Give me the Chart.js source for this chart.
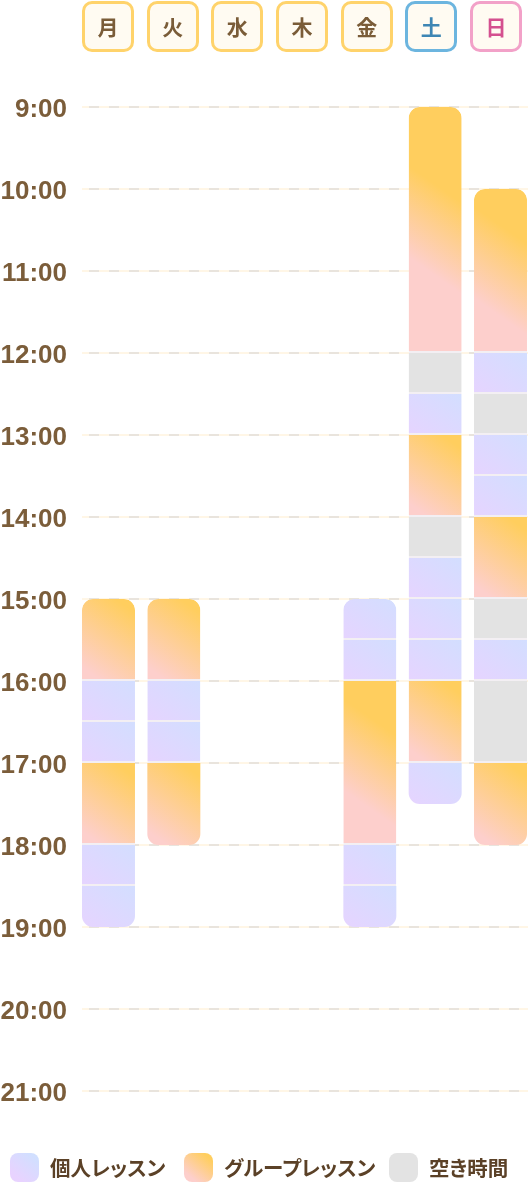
<!DOCTYPE html>
<html><head><meta charset="utf-8">
<script src="https://cdn.jsdelivr.net/npm/chart.js@4.4.1/dist/chart.umd.min.js"></script>
<style>
html,body{margin:0;padding:0;background:#fff;}
body{width:528px;height:1183px;overflow:hidden;position:relative;font-family:"Noto Sans CJK JP","Noto Sans",sans-serif;}
#wrap{position:absolute;left:0;top:0;width:540px;height:1183px;}
#header{position:absolute;left:0;top:0;width:528px;height:60px;}
.day{position:absolute;top:1px;width:52px;height:51px;box-sizing:border-box;border:3.5px solid #FFD36B;border-radius:10px;background:#FFFBF2;display:flex;align-items:center;justify-content:center;font-weight:700;font-size:21px;color:#7A5C38;line-height:1;}
.day.sat{border-color:#6CB5DF;color:#3E86B4;}
.day.sun{border-color:#F2A1C8;color:#D4508F;}
#legend{position:absolute;left:0;top:1153px;width:528px;height:30px;}
.sw{position:absolute;top:0;width:29px;height:29px;border-radius:8px;}
.lt{position:absolute;top:0;height:29px;line-height:29px;font-size:20.5px;font-weight:700;color:#5B4127;font-feature-settings:"palt";white-space:nowrap;}
</style>
</head><body>
<div id="wrap"><canvas id="c" width="540" height="1183" style="width:540px;height:1183px"></canvas></div>
<div id="header"></div>
<div id="legend"></div>
<script>
const days = ['月','火','水','木','金','土','日'];
const hourLabels = ['9:00','10:00','11:00','12:00','13:00','14:00','15:00','16:00','17:00','18:00','19:00','20:00','21:00'];
const individualLessons = [
  ['月',16,16.5],['月',16.5,17],['月',18,18.5],['月',18.5,19],
  ['火',16,16.5],['火',16.5,17],
  ['金',15,15.5],['金',15.5,16],['金',18,18.5],['金',18.5,19],
  ['土',12.5,13],['土',14.5,15],['土',15,15.5],['土',15.5,16],['土',17,17.5],
  ['日',12,12.5],['日',13,13.5],['日',13.5,14],['日',15.5,16]
];
const groupLessons = [
  ['月',15,16],['月',17,18],
  ['火',15,16],['火',17,18],
  ['金',16,18],
  ['土',9,12],['土',13,14],['土',16,17],
  ['日',10,12],['日',14,15],['日',17,18]
];
const freeTime = [
  ['土',12,12.5],['土',14,14.5],
  ['日',12.5,13],['日',15,15.5],['日',16,17]
];
const legendLabels = ['個人レッスン','グループレッスン','空き時間'];

const BAR_PCT = 0.811;
const GRAD_LEN = 75;
const GRAD_ANGLE = 35 * Math.PI / 180;
const all = [...individualLessons, ...groupLessons, ...freeTime];
const dayStart = {}, dayEnd = {};
all.forEach(([d,s,e]) => {
  dayStart[d] = Math.min(dayStart[d] ?? 99, s);
  dayEnd[d] = Math.max(dayEnd[d] ?? -1, e);
});
const toPts = arr => arr.map(([d,s,e]) => ({x:d, y:[s,e]}));

function makeGrad(ctx, cLow, cHigh) {
  const raw = ctx.raw;
  if (!raw || !raw.y) return cHigh;
  const chart = ctx.chart, xs = chart.scales.x, ys = chart.scales.y;
  if (!xs || !ys) return cHigh;
  const cx = xs.getPixelForValue(days.indexOf(raw.x));
  const y0 = ys.getPixelForValue(raw.y[0]), y1 = ys.getPixelForValue(raw.y[1]);
  if (![cx, y0, y1].every(Number.isFinite)) return cHigh;
  const cy = (y0 + y1) / 2;
  const dx = Math.sin(GRAD_ANGLE) * GRAD_LEN / 2, dy = Math.cos(GRAD_ANGLE) * GRAD_LEN / 2;
  const g = chart.ctx.createLinearGradient(cx - dx, cy + dy, cx + dx, cy - dy);
  g.addColorStop(0, cLow);
  g.addColorStop(1, cHigh);
  return g;
}
const isFirst = ctx => ctx.raw && ctx.raw.y && ctx.raw.y[0] === dayStart[ctx.raw.x];
const isLast = ctx => ctx.raw && ctx.raw.y && ctx.raw.y[1] === dayEnd[ctx.raw.x];

const common = {
  grouped: false,
  categoryPercentage: 1,
  barPercentage: BAR_PCT,
  borderSkipped: false,
  inflateAmount: 0,
  borderColor: '#F3EFF3',
  borderWidth: ctx => ({top:0, left:0, right:0, bottom: isLast(ctx) ? 0 : 2}),
  borderRadius: ctx => {
    const t = isFirst(ctx) ? 11 : 0, b = isLast(ctx) ? 11 : 0;
    return {topLeft:t, topRight:t, bottomLeft:b, bottomRight:b};
  }
};

const gridPlugin = {
  id: 'dashGrid',
  beforeDatasetsDraw(chart) {
    const {ctx, scales:{x, y}} = chart;
    const cw = x.width / days.length;
    const x0 = x.getPixelForValue(0) - cw * BAR_PCT / 2;
    const x1 = chart.width;
    ctx.save();
    ctx.lineWidth = 2;
    y.ticks.forEach(t => {
      const py = Math.round(y.getPixelForValue(t.value));
      ctx.setLineDash([]);
      ctx.strokeStyle = '#FFF6E6';
      ctx.beginPath(); ctx.moveTo(x0, py); ctx.lineTo(x1, py); ctx.stroke();
      ctx.setLineDash([10,10]);
      ctx.lineDashOffset = 13;
      ctx.strokeStyle = '#E9E4DD';
      ctx.beginPath(); ctx.moveTo(x0, py); ctx.lineTo(x1, py); ctx.stroke();
    });
    ctx.restore();
  }
};

new Chart(document.getElementById('c'), {
  type: 'bar',
  data: {
    labels: days,
    datasets: [
      Object.assign({label: legendLabels[0], data: toPts(individualLessons),
        backgroundColor: ctx => makeGrad(ctx, '#E8D3FF', '#D1DFFF')}, common),
      Object.assign({label: legendLabels[1], data: toPts(groupLessons),
        backgroundColor: ctx => makeGrad(ctx, '#FDCFCC', '#FFCE5E')}, common),
      Object.assign({label: legendLabels[2], data: toPts(freeTime),
        backgroundColor: '#E3E3E3'}, common)
    ]
  },
  options: {
    responsive: false,
    animation: false,
    events: [],
    layout: {padding: {top: 107, bottom: 92, left: 0, right: 6.83}},
    plugins: {legend: {display: false}, tooltip: {enabled: false}},
    scales: {
      x: {type: 'category', display: false, offset: true, grid: {display: false}},
      y: {
        type: 'linear', reverse: true, min: 9, max: 21,
        afterFit: s => { s.width = 75.83; },
        border: {display: false},
        grid: {display: false, drawTicks: false},
        ticks: {
          stepSize: 1, padding: 8.8, labelOffset: 2.5, color: '#7B5D3A',
          font: {family: '"Liberation Sans", Arial, sans-serif', size: 26, weight: 'bold'},
          callback: v => hourLabels[v - 9]
        }
      }
    }
  },
  plugins: [gridPlugin]
});

// header boxes
const header = document.getElementById('header');
days.forEach((d, i) => {
  const el = document.createElement('div');
  el.className = 'day' + (i === 5 ? ' sat' : i === 6 ? ' sun' : '');
  el.style.left = (82 + i * 64.67) + 'px';
  el.textContent = d;
  header.appendChild(el);
});

// legend
const legend = document.getElementById('legend');
const swatches = [
  'linear-gradient(40deg,#E8D3FF 20%,#D1DFFF 85%)',
  'linear-gradient(40deg,#FDCFCC 20%,#FFCE5E 85%)',
  '#E3E3E3'
];
const swX = [10, 184, 389];
legendLabels.forEach((t, i) => {
  const s = document.createElement('div');
  s.className = 'sw'; s.style.left = swX[i] + 'px'; s.style.background = swatches[i];
  legend.appendChild(s);
  const l = document.createElement('div');
  l.className = 'lt'; l.style.left = (swX[i] + 40) + 'px'; l.textContent = t;
  legend.appendChild(l);
});
</script>
</body></html>
